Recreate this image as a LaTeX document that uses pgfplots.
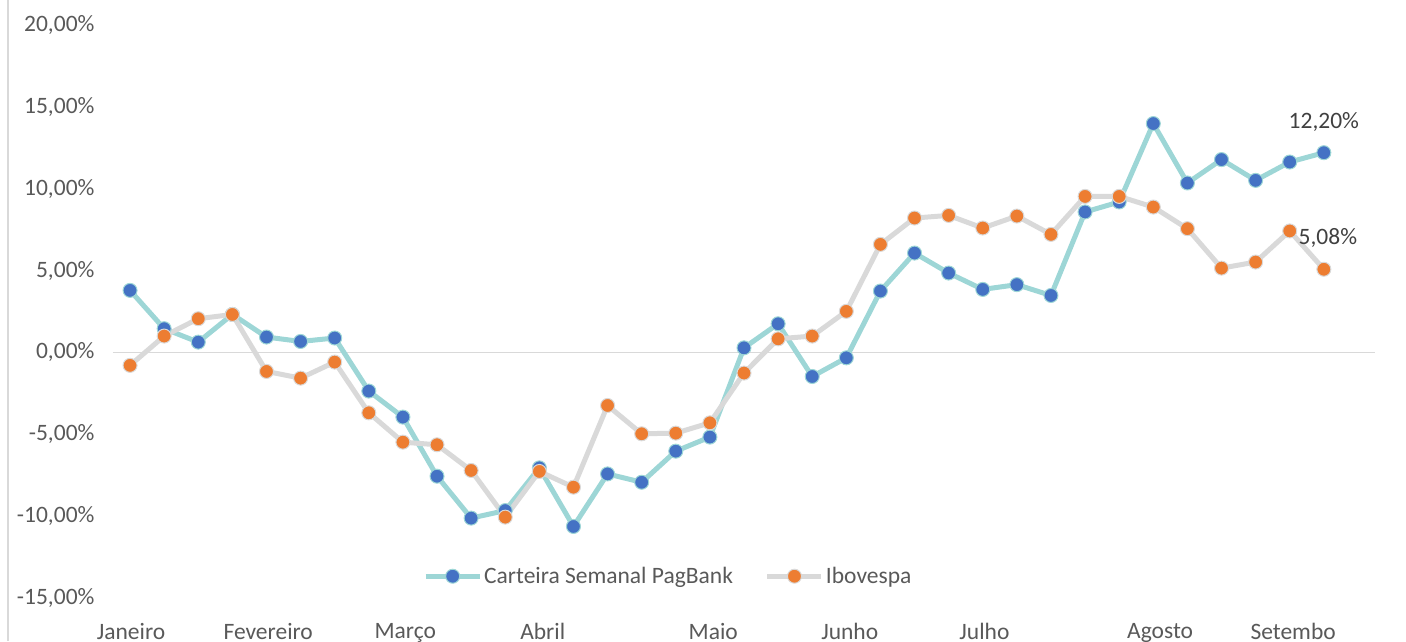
\documentclass[border=0pt]{standalone}
\usepackage{fontspec}
\setmainfont{Carlito}
\usepackage{pgfplots}
\usepackage{pgfplotstable}
\pgfplotsset{compat=1.18}

\definecolor{tealline}{HTML}{9DD6D6}
\definecolor{bluemark}{HTML}{4472C4}
\definecolor{grayline}{HTML}{D9D9D9}
\definecolor{orangemark}{HTML}{ED7D31}
\definecolor{ticktext}{HTML}{595959}
\definecolor{labeltext}{HTML}{404040}

% semana, carteira PagBank, Ibovespa (em %)
\pgfplotstableread{
i  pag     ibov
0  3.79   -0.79
1  1.45    1.00
2  0.63    2.06
3  2.32    2.32
4  0.94   -1.16
5  0.67   -1.57
6  0.88   -0.59
7  -2.36  -3.69
8  -3.95  -5.48
9  -7.56  -5.64
10 -10.12 -7.21
11 -9.66  -10.06
12 -7.05  -7.27
13 -10.63 -8.23
14 -7.42  -3.24
15 -7.93  -4.97
16 -6.03  -4.93
17 -5.17  -4.30
18 0.28   -1.26
19 1.75    0.83
20 -1.47   1.00
21 -0.33   2.51
22 3.75    6.60
23 6.07    8.21
24 4.85    8.37
25 3.85    7.60
26 4.14    8.33
27 3.48    7.21
28 8.58    9.53
29 9.19    9.53
30 13.98   8.88
31 10.35   7.56
32 11.78   5.15
33 10.51   5.52
34 11.63   7.42
35 12.20   5.08
}\dados

\newcommand\fs{\fontsize{23.5}{28}\selectfont}

\begin{document}
\begin{tikzpicture}
\useasboundingbox (-113pt,-43pt) rectangle (1293pt,598pt);
\draw[grayline, line width=1.5pt] (-105pt,-43pt) -- (-105pt,598pt);
\begin{axis}[
  at={(0pt,0pt)}, anchor=south west,
  scale only axis, width=1262pt, height=573pt,
  xmin=-0.5, xmax=36.5, ymin=-15, ymax=20,
  axis line style={draw=none},
  major tick length=0pt,
  ytick={-15,-10,...,20},
  yticklabels={{-15,00\%},{-10,00\%},{-5,00\%},{0,00\%},{5,00\%},{10,00\%},{15,00\%},{20,00\%}},
  xtick={0.03,4.05,8.07,12.1,17.1,21.1,25.05,30.2,34.1},
  xticklabels={Janeiro,Fevereiro,Março,Abril,Maio,Junho,Julho,Agosto,Setembo},
  ticklabel style={font=\fs, text=ticktext},
  yticklabel style={xshift=-15pt},
  xticklabel style={yshift=-22pt},
  extra y ticks={0},
  extra y tick labels={},
  extra y tick style={grid=major, major grid style={grayline, line width=1.5pt}},
  legend style={at={(0.44,0.038)}, anchor=center, draw=none, fill=none,
    font=\fs, text=ticktext,
    legend columns=2,
    /tikz/every even column/.append style={column sep=30pt}},
  legend image code/.code={\draw[mark repeat=2,mark phase=2,#1]
    plot coordinates {(0pt,0pt) (27pt,0pt) (54pt,0pt)};},
]
\addplot[tealline, line width=5pt, mark=*, mark size=7pt,
  mark options={fill=bluemark, draw=tealline, line width=1pt}]
  table[x=i, y=pag] {\dados};
\addlegendentry{Carteira Semanal PagBank}
\addplot[grayline, line width=5pt, mark=*, mark size=7pt,
  mark options={fill=orangemark, draw=grayline, line width=1pt}]
  table[x=i, y=ibov] {\dados};
\addlegendentry{Ibovespa}
\node[font=\fs, text=labeltext, yshift=31pt] at (axis cs:35,12.20) {12,20\%};
\node[font=\fs, text=labeltext, xshift=4pt, yshift=31pt] at (axis cs:35,5.08) {5,08\%};
\end{axis}
\end{tikzpicture}
\end{document}
